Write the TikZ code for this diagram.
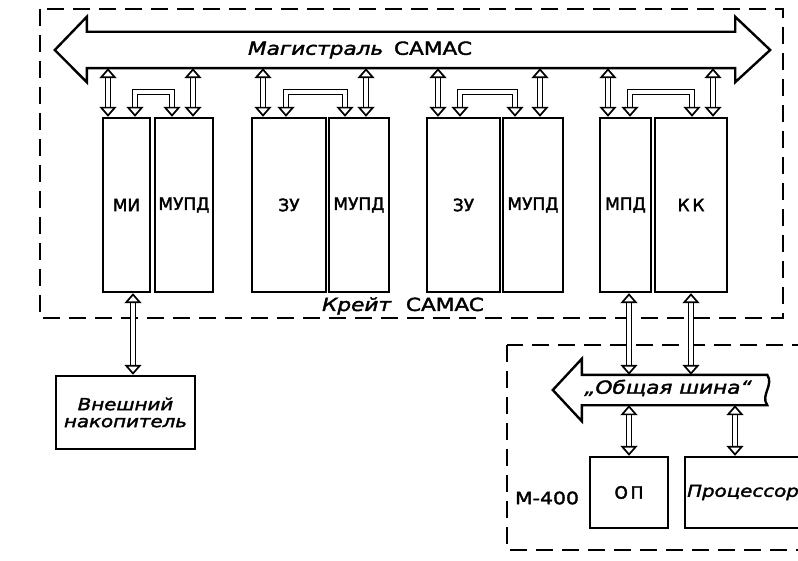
\documentclass[tikz,border=0pt]{standalone}
\usepackage{fontspec}
\setmainfont{DejaVu Sans}[FakeBold=2]
\newfontfamily\widefont[FakeStretch=1.2,FakeBold=2]{DejaVu Sans}
\usetikzlibrary{arrows.meta,calc}
\tikzset{
  half/.style  = {draw, line width=2.4pt, inner sep=0pt, minimum height=174pt,
                  font=\fontsize{17}{20}\selectfont},
  box/.style   = {draw, line width=2.4pt, inner sep=2pt, align=center,
                  font=\fontsize{17}{20}\selectfont},
  frame/.style = {line width=1.8pt, dash pattern=on 17pt off 9pt},
  bus/.style   = {line width=2.4pt, line join=miter},
  hol/.tip     = {Triangle[open, length=10pt, width=17pt, line width=1.7pt]},
  link/.style  = {double, line width=1.7pt, double distance=3.2pt, hol-hol},
  lbl/.style   = {inner sep=0pt, font=\widefont\fontsize{18}{21}\selectfont},
}
\begin{document}
\begin{tikzpicture}[x=1pt, y=-1pt]
  \useasboundingbox (0,0) rectangle (798,561);
  % crate frame and the CAMAC bus
  \draw[frame] (40,9) rectangle (783,318);
  \node[minimum width=648pt, minimum height=36pt, inner sep=0pt] (cbus) at (411,50) {};
  \draw[bus] (cbus.north west) -- (cbus.north east) -- ++(0,-15)
    -- ($(cbus.east)+(35,0)$) -- ($(cbus.south east)+(0,14)$) -- (cbus.south east)
    -- (cbus.south west) -- ++(0,14) -- ($(cbus.west)+(-32,0)$)
    -- ($(cbus.north west)+(0,-15)$) -- cycle;
  \node[lbl] (cname) at (360,50) {\textit{Магистраль}\hspace{0.6em}CAMAC};
  \node[lbl] (crname) at (403,306) {\textit{Крейт}\hspace{0.8em}CAMAC};
  % modules in the crate
  \node[half, minimum width=47pt] (m1a) at (126.5,205) {МИ};
  \node[half, minimum width=58pt] (m1b) at (184,205) {МУПД};
  \node[half, minimum width=74pt] (m2a) at (289,205) {ЗУ};
  \node[half, minimum width=60pt] (m2b) at (359,205) {МУПД};
  \node[half, minimum width=73pt] (m3a) at (463.5,205) {ЗУ};
  \node[half, minimum width=60pt] (m3b) at (533,205) {МУПД};
  \node[half, minimum width=51pt] (m4a) at (625.5,205) {МПД};
  \node[half, minimum width=72pt] (m4b) at (691,205) {К\,К};
  \foreach \x in {108,193,263,366,438,540,608,713}
    \draw[link] (\x,0 |- cbus.south) -- (\x,0 |- m1a.north);
  \foreach \a/\b in {135/172,286/345,460/515,630/692}
    \draw[link] (\a,0 |- m1a.north) -- (\a,92) -- (\b,92) -- (\b,0 |- m1a.north);
  % external storage
  \node[box, minimum width=139pt, minimum height=73pt,
        font=\widefont\fontsize{16.5}{17}\selectfont] (ext) at (125.5,412.5)
        {\textit{Внешний}\\\textit{накопитель}};
  \draw[link] (133,0 |- m1a.south) -- (133,0 |- ext.north);
  % M-400
  \draw[frame] (507,345) rectangle (830,550);
  \node[minimum width=185pt, minimum height=30pt, inner sep=0pt] (obus) at (674.5,390) {};
  \draw[bus] (obus.south east) .. controls +(-7,-10) and +(7,10) .. (obus.north east)
    -- (obus.north west) -- ++(0,-16) -- ($(obus.west)+(-29,0)$)
    -- ($(obus.south west)+(0,16)$) -- (obus.south west) -- cycle;
  \node[lbl] (oname) at (668,388) {\textit{„Общая шина“}};
  \node[box, minimum width=78pt, minimum height=71pt] (op) at (629,492.5) {О\,П};
  \node[box, minimum width=116pt, minimum height=71pt,
        font=\widefont\fontsize{16.5}{18}\selectfont] (proc) at (743,492.5) {\textit{Процессор}};
  \node[lbl, font=\widefont\fontsize{17}{20}\selectfont] (mname) at (547,498) {М-400};
  \draw[link] (op.north |- m4a.south) -- (op.north |- obus.north);
  \draw[link] (m4b.south) -- (m4b.south |- obus.north);
  \draw[link] (op.north |- obus.south) -- (op.north);
  \draw[link] (735,0 |- obus.south) -- (735,0 |- proc.north);
\end{tikzpicture}
\end{document}
